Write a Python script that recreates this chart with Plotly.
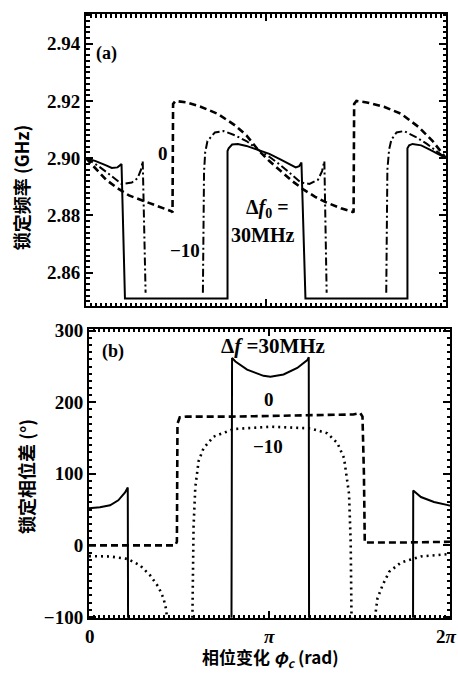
import math
import plotly.graph_objects as go

PI = math.pi

# ---------------- panel (a): locked frequency (GHz) vs phase change ----------------
# Δf0 = 30 MHz (solid)
a30_x = [0, 0.17, 0.35, 0.45, 0.55, 0.60, 0.62, 0.68, 2.47, 2.47, 2.49, 2.55, 2.65, 2.80,
         3.00, 3.20, 3.40, 3.60, 3.66, 3.72, 3.76, 3.83, 5.61, 5.61, 5.64, 5.70, 5.85,
         6.00, 6.15, 2 * PI]
a30_y = [2.900, 2.899, 2.8975, 2.8966, 2.8968, 2.8975, 2.898, 2.851, 2.851, 2.9025, 2.9035,
         2.9048, 2.905, 2.9043, 2.903, 2.9015, 2.8995, 2.8975, 2.8968, 2.8972, 2.8985,
         2.851, 2.851, 2.9035, 2.9045, 2.905, 2.9045, 2.903, 2.9015, 2.900]

# Δf0 = 0 MHz (dashed)
a0_x = [0, 0.17, 0.35, 0.55, 0.75, 0.95, 1.15, 1.35, 1.50, 1.51, 1.52, 1.56, 1.75, 2.00,
        2.30, 2.60, 2.80, 3.00, 3.20, 3.40, 3.60, 3.80, 4.00, 4.20, 4.45, 4.66, 4.67,
        4.68, 4.72, 4.90, 5.20, 5.50, 5.80, 6.05, 2 * PI]
a0_y = [2.900, 2.8965, 2.8925, 2.8895, 2.887, 2.8855, 2.884, 2.8825, 2.8814, 2.881, 2.919,
        2.920, 2.9195, 2.918, 2.9155, 2.9115, 2.908, 2.903, 2.899, 2.8955, 2.892, 2.889,
        2.8865, 2.8845, 2.8825, 2.8812, 2.881, 2.919, 2.920, 2.9195, 2.918, 2.9155, 2.911,
        2.906, 2.900]

# Δf0 = -10 MHz (dash-dot); gaps where the curve leaves the plotted range
am10_x = [0, 0.20, 0.40, 0.55, 0.62, 0.80, 0.90, 0.96, 0.99, 1.04, None,
          2.04, 2.06, 2.08, 2.12, 2.25, 2.40, 2.60, 2.80, 3.00, 3.20, 3.40, 3.60, 3.75,
          3.90, 4.05, 4.12, 4.16, 4.20, None,
          5.24, 5.26, 5.29, 5.33, 5.42, 5.55, 5.75, 5.95, 6.15, 2 * PI]
am10_y = [2.900, 2.8975, 2.8945, 2.892, 2.891, 2.8915, 2.893, 2.896, 2.899, 2.853, None,
          2.853, 2.895, 2.902, 2.906, 2.909, 2.9095, 2.908, 2.906, 2.903, 2.9005, 2.8975,
          2.894, 2.8915, 2.891, 2.8925, 2.8955, 2.899, 2.853, None,
          2.853, 2.896, 2.903, 2.9065, 2.909, 2.9095, 2.9075, 2.905, 2.902, 2.900]

# ---------------- panel (b): locked phase difference (deg) vs phase change ----------------
b30_x = [0, 0.19, 0.367, 0.51, 0.628, 0.675, 0.68, None,
         2.48, 2.49, 2.548, 2.752, 3.037, 3.159, 3.386, 3.625, 3.80, 3.825, 3.83, None,
         5.64, 5.643, 5.777, 6.004, 6.266, 2 * PI]
b30_y = [52, 53.4, 56, 63, 74, 81, -101, None,
         -101, 262, 257, 245.6, 237, 235.6, 238.8, 248, 259, 263, -101, None,
         -101, 76.7, 67.6, 60.7, 56, 55]

b0_x = [0, 1.50, 1.53, 1.54, 1.58, 1.70, 2.50, 3.50, 4.30, 4.60, 4.72, 4.76, 4.785, 4.80,
        5.50, 2 * PI]
b0_y = [0, 0, 5, 170, 179, 180, 180, 181, 182, 183, 185, 180, 100, 4, 4, 5]

bm10_x = [0, 0.367, 0.675, 0.89, 1.065, 1.209, 1.297, 1.344, 1.356, None,
          1.80, 1.808, 1.82, 1.85, 1.908, 1.995, 2.169, 2.519, 3.159, 3.857, 4.149, 4.323,
          4.439, 4.526, 4.555, 4.567, 4.57, None,
          4.985, 4.992, 5.021, 5.108, 5.224, 5.428, 5.777, 6.271, 2 * PI]
bm10_y = [-15, -15.5, -19, -28, -42, -58, -74, -90, -101, None,
          -101, -42, 26, 81, 118, 136, 152, 162.6, 165.8, 163.5, 156.6, 143,
          122, 72, 3.7, -88, -101, None,
          -101, -92, -74, -56, -37, -24, -15.5, -12.3, -12]

# x tick labels (phase change in units of π)
x_ticks = [0, PI, 2 * PI]
x_ticktext = ["<b>0</b>", "<b><i>π</i></b>", "<b>2<i>π</i></b>"]

SERIF = "Liberation Serif, Noto Sans CJK SC, serif"
CJK = "Noto Sans CJK SC, sans-serif"
INK = "black"

fig = go.Figure()

line_solid = dict(color=INK, width=2)
line_dash = dict(color=INK, width=2.6, dash="7px,4px")
line_dashdot = dict(color=INK, width=2, dash="8px,3px,2px,3px")
line_dot = dict(color=INK, width=2.6, dash="2px,4px")

fig.add_trace(go.Scatter(x=a30_x, y=a30_y, mode="lines", line=line_solid, xaxis="x", yaxis="y"))
fig.add_trace(go.Scatter(x=a0_x, y=a0_y, mode="lines", line=line_dash, xaxis="x", yaxis="y"))
fig.add_trace(go.Scatter(x=am10_x, y=am10_y, mode="lines", line=line_dashdot, xaxis="x", yaxis="y"))

fig.add_trace(go.Scatter(x=b30_x, y=b30_y, mode="lines", line=line_solid, xaxis="x2", yaxis="y2"))
fig.add_trace(go.Scatter(x=b0_x, y=b0_y, mode="lines", line=line_dash, xaxis="x2", yaxis="y2"))
fig.add_trace(go.Scatter(x=bm10_x, y=bm10_y, mode="lines", line=line_dot, xaxis="x2", yaxis="y2"))

axis_common = dict(
    showgrid=False, zeroline=False, showline=True, linecolor=INK, linewidth=2,
    mirror="allticks", ticks="inside", ticklen=7, tickwidth=2, tickcolor=INK,
    tickmode="linear",
    tickfont=dict(family=SERIF, size=19, color=INK, weight="bold"),
)


def minor_ticks(step, start):
    return dict(ticks="inside", dtick=step, tick0=start, ticklen=3.5,
                tickwidth=1.5, tickcolor=INK)


fig.update_layout(
    width=458, height=677,
    margin=dict(l=86, r=7, t=6, b=59),
    paper_bgcolor="white", plot_bgcolor="white",
    showlegend=False,
    xaxis=dict(axis_common, domain=[0, 361 / 365], range=[0, 2 * PI], anchor="y",
               tick0=0, dtick=PI, showticklabels=False, minor=minor_ticks(PI / 36, 0)),
    yaxis=dict(axis_common, domain=[0.5163, 1], range=[2.8483, 2.9504], anchor="x",
               tick0=2.86, dtick=0.02, tickformat=".2f", minor=minor_ticks(0.002, 2.86)),
    xaxis2=dict(axis_common, domain=[3 / 365, 1], range=[0, 2 * PI], anchor="y2",
                tick0=0, dtick=PI, showticklabels=False, minor=minor_ticks(PI / 36, 0)),
    yaxis2=dict(axis_common, domain=[0, 0.4788], range=[-101.5, 302.7], anchor="x2",
                tick0=0, dtick=100, minor=minor_ticks(10, 0)),
)


def label(text, x, y, xref, yref, size=19, family=SERIF, angle=0, xshift=0):
    fig.add_annotation(text=text, x=x, y=y, xref=xref, yref=yref, showarrow=False,
                       textangle=angle, font=dict(family=family, size=size, color=INK),
                       xanchor="center", yanchor="middle", xshift=xshift)


# x tick labels under panel (b)
for xv, txt, dx in zip(x_ticks, x_ticktext, [1, 0, -4]):
    label(txt, xv, -0.031, "x2", "paper", size=19, xshift=dx)

# panel (a) labels
label("<b>(a)</b>", 0.36, 2.9365, "x", "y", size=18)
label("<b>0</b>", 1.34, 2.9017, "x", "y")
label("<b>−10</b>", 1.72, 2.8679, "x", "y")
label("<b>Δ<i>f</i><sub>0</sub> =</b>", 3.17, 2.8824, "x", "y", size=20)
label("<b>30MHz</b>", 3.08, 2.8730, "x", "y", size=20)

# panel (b) labels
label("<b>(b)</b>", 0.42, 271, "x2", "y2", size=18)
label("<b>Δ<i>f</i> =30MHz</b>", 3.21, 279, "x2", "y2", size=21)
label("<b>0</b>", 3.14, 204, "x2", "y2")
label("<b>−10</b>", 3.12, 138, "x2", "y2")

# axis titles
label("<b>锁定频率 (GHz)</b>", -0.178, 0.712, "paper", "paper", size=18, family=CJK, angle=-90)
label("<b>锁定相位差 (°)</b>", -0.167, 0.234, "paper", "paper", size=18, family=CJK, angle=-90)
label("<b>相位变化 <i>φ</i><sub><i>c</i></sub> (rad)</b>", 0.507, -0.0654, "paper", "paper",
      size=17, family=CJK)

fig.write_html("out.html")
